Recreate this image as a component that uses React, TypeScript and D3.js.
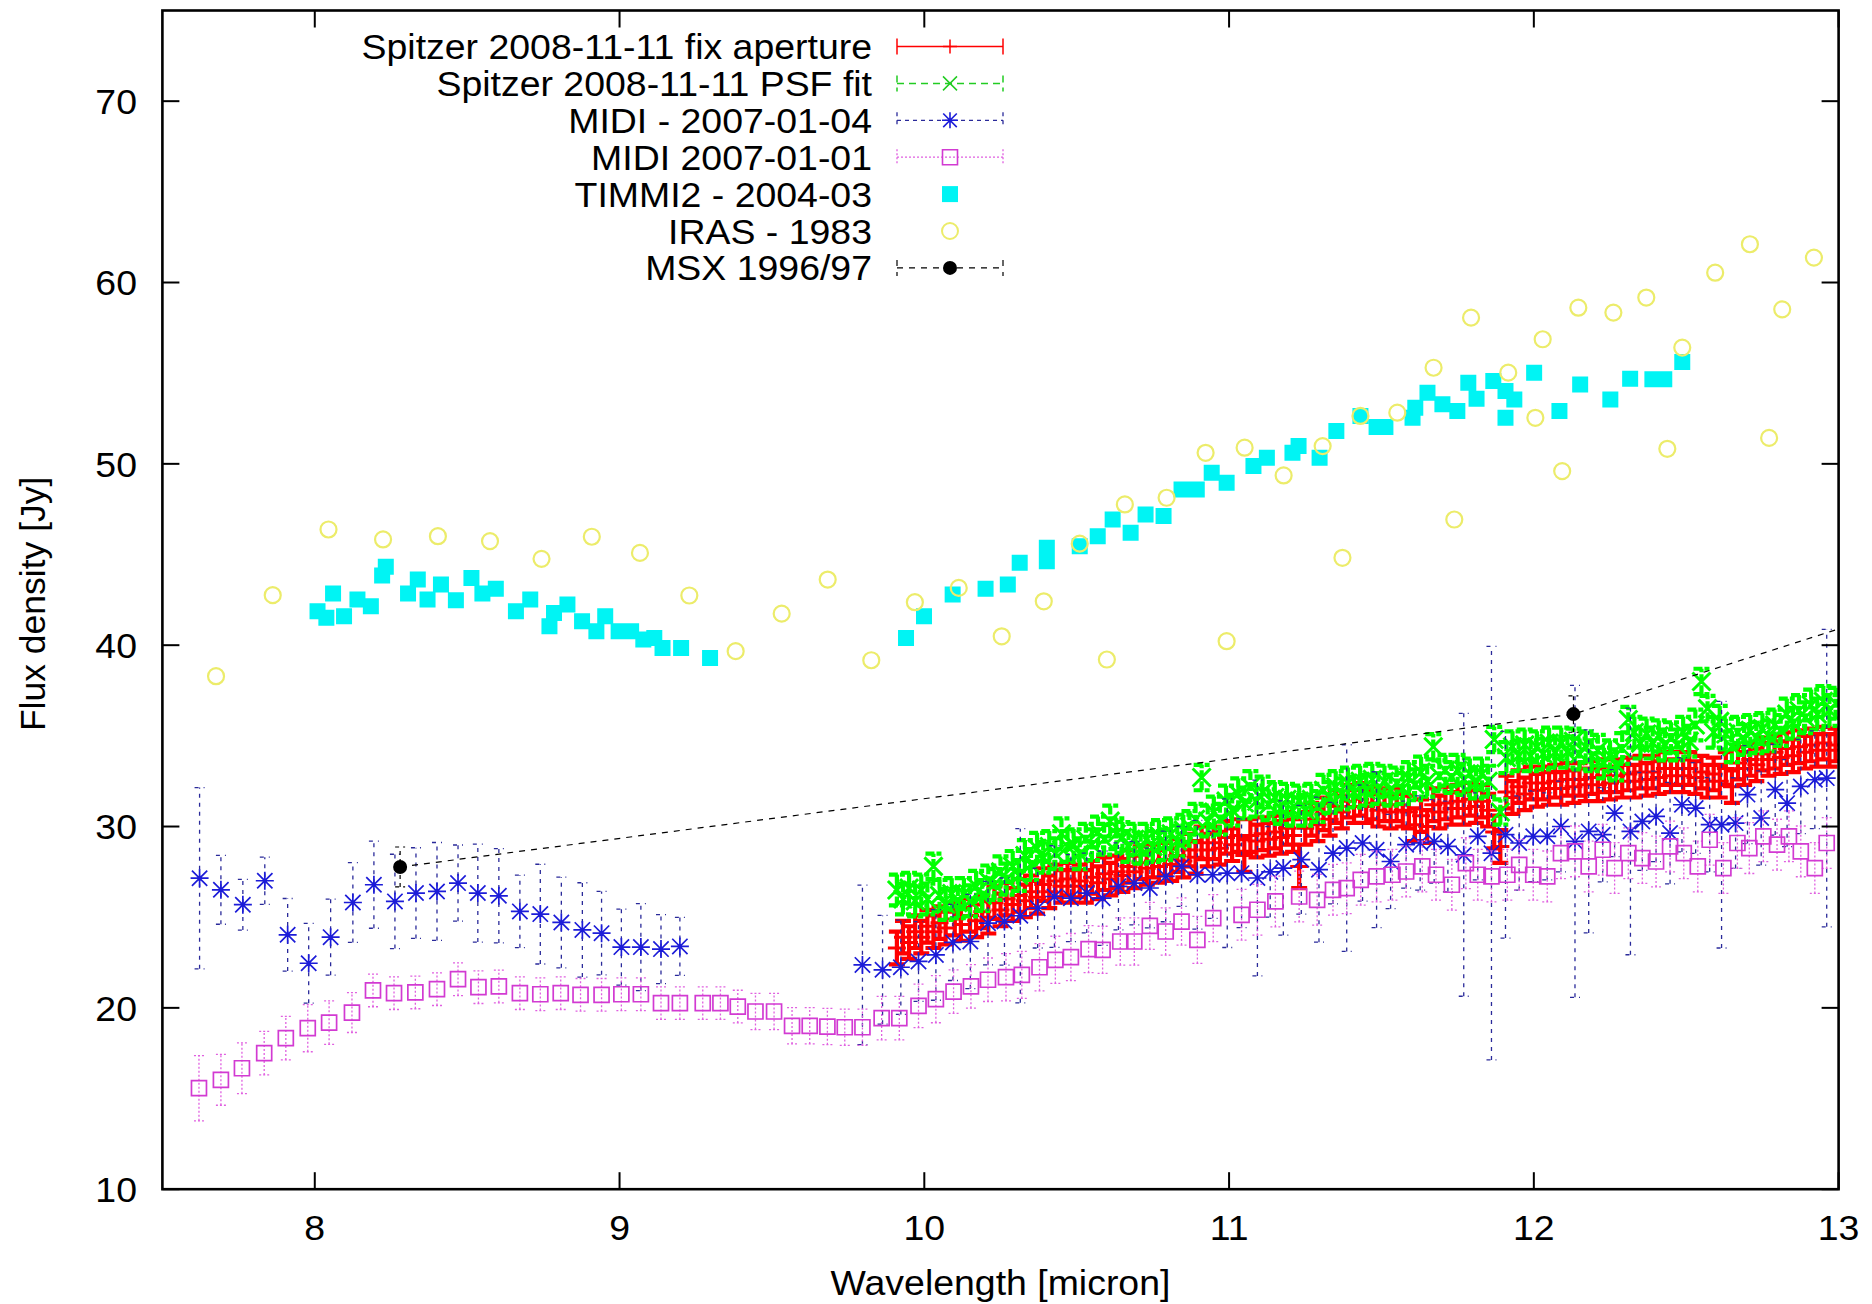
import React from "react";
import * as d3 from "d3";

// ---------- axes ----------
const xDomain: [number, number] = [7.5, 13];
const yDomain: [number, number] = [10, 75];
const xTicks = [8, 9, 10, 11, 12, 13];
const yTicks = [10, 20, 30, 40, 50, 60, 70];
const xLabel = "Wavelength [micron]";
const yLabel = "Flux density [Jy]";

// ---------- legend ----------
const legendLabels = [
  "Spitzer 2008-11-11 fix aperture",
  "Spitzer 2008-11-11 PSF fit",
  "MIDI - 2007-01-04",
  "MIDI 2007-01-01",
  "TIMMI2 - 2004-03",
  "IRAS - 1983",
  "MSX 1996/97",
];

// ---------- data: [wavelength, flux, error] ----------
const spitzerFix: [number, number, number][] = [
  [9.91,23.3,.9],[9.93,23.9,.9],[9.95,23.6,.9],[9.97,24.2,.9],[9.99,23.9,.9],[10.01,24.5,.9],[10.03,24.2,.9],
  [10.05,24.7,.9],[10.07,24.4,.9],[10.10,24.9,.9],[10.12,24.6,.9],[10.15,25.1,.9],[10.17,24.8,.9],[10.19,25.3,.9],
  [10.21,25.0,.9],[10.23,25.8,.9],[10.25,25.4,.9],[10.27,26.0,.9],[10.29,25.7,.9],[10.31,26.2,.9],[10.33,25.9,.9],
  [10.35,26.4,.9],[10.37,26.1,.9],[10.39,26.8,.9],[10.41,26.4,.9],[10.43,27.0,.9],[10.45,26.7,.9],[10.47,27.1,.9],
  [10.49,26.7,.9],[10.51,27.0,.9],[10.53,26.7,.9],[10.55,27.2,.9],[10.57,26.9,.9],[10.59,27.4,.9],[10.61,27.1,.9],
  [10.63,27.5,.9],[10.65,27.3,.9],[10.67,27.8,.9],[10.69,27.5,.9],[10.71,28.0,.9],[10.73,27.7,.9],[10.75,28.1,.9],
  [10.77,27.8,.9],[10.79,28.2,.9],[10.81,27.9,.9],[10.83,28.4,.9],[10.85,28.1,.9],[10.87,28.7,.9],[10.89,28.3,.9],
  [10.91,29.1,.9],[10.93,28.7,.9],[10.95,29.1,.9],[10.97,28.8,.9],[10.99,29.4,.9],[11.01,29.0,.9],[11.03,29.5,.9],
  [11.05,28.4,.9],[11.07,29.5,.9],[11.09,29.2,.9],[11.11,29.6,.9],[11.13,29.3,.9],[11.15,29.7,.9],[11.17,29.4,.9],
  [11.19,29.9,.9],[11.21,29.5,.9],[11.23,27.8,1.2],[11.25,29.9,.9],[11.27,30.4,.9],[11.29,30.1,.9],[11.31,30.7,.9],
  [11.33,30.4,.9],[11.35,31.1,.9],[11.37,30.8,.9],[11.39,31.4,.9],[11.41,31.1,.9],[11.43,31.5,.9],[11.45,31.1,.9],
  [11.47,31.3,.9],[11.49,30.9,.9],[11.51,31.2,.9],[11.53,30.8,.9],[11.55,31.2,.9],[11.57,30.9,.9],[11.59,30.8,.9],
  [11.61,30.1,.9],[11.63,30.6,.9],[11.65,30.0,.9],[11.67,31.2,.9],[11.69,30.8,.9],[11.71,31.3,.9],[11.73,31.0,.9],
  [11.75,31.4,.9],[11.77,31.0,.9],[11.79,31.5,.9],[11.81,31.1,.9],[11.83,31.4,.9],[11.85,30.9,.9],[11.87,29.7,.9],
  [11.89,28.9,.9],[11.91,31.9,.9],[11.93,31.6,.9],[11.95,32.2,.9],[11.97,31.8,.9],[11.99,32.4,.9],[12.01,32.0,.9],
  [12.03,32.4,.9],[12.05,32.1,.9],[12.07,32.5,.9],[12.09,32.1,.9],[12.11,32.6,.9],[12.13,32.2,.9],[12.15,32.6,.9],
  [12.17,32.3,.9],[12.19,32.7,.9],[12.21,32.3,.9],[12.23,32.8,.9],[12.25,32.4,.9],[12.27,32.8,.9],[12.29,32.5,.9],
  [12.31,32.9,.9],[12.33,32.5,.9],[12.35,33.0,.9],[12.37,32.6,.9],[12.39,33.0,.9],[12.41,32.7,.9],[12.43,33.2,.9],
  [12.45,32.8,.9],[12.47,33.2,.9],[12.49,32.8,.9],[12.51,33.2,.9],[12.53,32.7,.9],[12.55,33.0,.9],[12.57,32.5,.9],
  [12.59,32.9,.9],[12.61,32.5,.9],[12.63,33.2,.9],[12.65,32.2,.9],[12.67,33.5,.9],[12.69,33.2,.9],[12.71,33.7,.9],
  [12.73,33.4,.9],[12.75,34.0,.9],[12.77,33.7,.9],[12.79,34.1,.9],[12.81,33.8,.9],[12.83,34.3,.9],[12.85,33.9,.9],
  [12.87,34.4,.9],[12.89,34.1,.9],[12.91,34.5,.9],[12.93,34.2,.9],[12.95,34.6,.9],[12.97,34.2,.9],[12.99,34.5,.9],
];

const spitzerPsf: [number, number, number][] = [
  [9.91,26.5,.85],[9.93,26.0,.85],[9.95,26.6,.85],[9.97,25.9,.85],[9.99,26.5,.85],[10.01,26.0,.85],[10.03,27.8,.7],
  [10.05,26.2,.85],[10.07,25.7,.85],[10.09,26.3,.85],[10.11,25.8,.85],[10.13,26.3,.85],[10.15,25.9,.85],[10.17,26.7,.85],
  [10.19,26.2,.85],[10.21,27.0,.85],[10.23,26.8,.85],[10.25,27.5,.85],[10.27,27.1,.85],[10.29,27.8,.85],[10.31,27.3,.85],
  [10.33,28.4,.85],[10.35,27.9,.85],[10.37,28.8,.85],[10.39,28.3,.85],[10.41,28.9,.85],[10.43,28.5,.85],[10.45,29.6,.85],
  [10.47,28.9,.85],[10.49,29.0,.85],[10.51,28.5,.85],[10.53,29.3,.85],[10.55,29.0,.85],[10.57,29.7,.85],[10.59,29.3,.85],
  [10.61,30.3,.85],[10.63,29.6,.85],[10.65,29.4,.85],[10.67,28.9,.85],[10.69,29.3,.85],[10.71,28.8,.85],[10.73,29.3,.85],
  [10.75,28.9,.85],[10.77,29.5,.85],[10.79,29.0,.85],[10.81,29.6,.85],[10.83,29.2,.85],[10.85,29.8,.85],[10.87,30.0,.85],
  [10.89,30.4,.85],[10.91,32.7,.7],[10.93,30.3,.85],[10.95,30.8,.85],[10.97,30.4,.85],[10.99,31.4,.85],[11.01,30.9,.85],
  [11.03,31.8,.85],[11.05,31.3,.85],[11.07,32.2,.85],[11.09,31.4,.85],[11.11,31.9,.85],[11.13,31.2,.85],[11.15,31.6,.85],
  [11.17,31.0,.85],[11.19,31.5,.85],[11.21,30.9,.85],[11.23,31.4,.85],[11.25,30.9,.85],[11.27,31.5,.85],[11.29,31.1,.85],
  [11.31,32.0,.85],[11.33,31.6,.85],[11.35,32.2,.85],[11.37,31.8,.85],[11.39,32.4,.85],[11.41,31.9,.85],[11.43,32.5,.85],
  [11.45,32.0,.85],[11.47,32.6,.85],[11.49,32.1,.85],[11.51,32.5,.85],[11.53,32.0,.85],[11.55,32.4,.85],[11.57,32.1,.85],
  [11.59,32.7,.85],[11.61,32.3,.85],[11.63,33.0,.85],[11.65,32.5,.85],[11.67,34.4,.7],[11.69,32.8,.85],[11.71,33.1,.85],
  [11.73,32.7,.85],[11.75,33.1,.85],[11.77,32.6,.85],[11.79,32.9,.85],[11.81,32.4,.85],[11.83,32.9,.85],[11.85,32.5,.85],
  [11.87,34.8,.7],[11.89,30.8,.7],[11.91,33.8,.85],[11.93,34.4,.85],[11.95,33.9,.85],[11.97,34.5,.85],[11.99,33.9,.85],
  [12.01,34.4,.85],[12.03,34.0,.85],[12.05,34.6,.85],[12.07,34.1,.85],[12.09,34.6,.85],[12.11,34.1,.85],[12.13,34.7,.7],
  [12.15,34.0,.85],[12.17,34.4,.85],[12.19,33.9,.85],[12.21,34.2,.85],[12.23,33.5,.85],[12.25,33.9,.85],[12.27,33.4,.85],
  [12.29,34.3,.85],[12.31,35.9,.7],[12.33,35.2,.85],[12.35,34.6,.85],[12.37,35.1,.85],[12.39,34.6,.85],[12.41,35.0,.85],
  [12.43,34.5,.85],[12.45,34.9,.85],[12.47,34.5,.85],[12.49,35.2,.85],[12.51,34.7,.85],[12.53,35.6,.85],[12.55,38.0,.7],
  [12.57,36.5,.7],[12.59,35.2,.85],[12.61,35.8,.85],[12.63,35.1,.85],[12.65,34.4,.85],[12.67,35.2,.85],[12.69,34.8,.85],
  [12.71,35.3,.85],[12.73,34.9,.85],[12.75,35.4,.85],[12.77,35.0,.85],[12.79,35.6,.85],[12.81,35.3,.85],[12.83,36.2,.85],
  [12.85,35.7,.85],[12.87,36.4,.85],[12.89,36.0,.85],[12.91,36.7,.85],[12.93,36.2,.85],[12.95,36.9,.85],[12.97,36.4,.85],
  [12.99,36.8,.85],
];

const midi0104: [number, number, number][] = [
  [7.622,27.15,5.0],[7.692,26.51,1.9],[7.764,25.69,1.4],[7.836,27.01,1.3],[7.911,24.03,2.0],[7.980,22.46,2.2],
  [8.052,23.90,2.1],[8.125,25.81,2.2],[8.194,26.79,2.4],[8.263,25.87,2.6],[8.332,26.33,2.5],[8.401,26.42,2.7],
  [8.470,26.88,2.1],[8.535,26.33,2.7],[8.604,26.18,2.6],[8.673,25.32,2.0],[8.740,25.17,2.75],[8.809,24.71,2.5],
  [8.878,24.30,2.6],[8.941,24.12,2.3],[9.006,23.35,2.1],[9.070,23.35,2.4],[9.136,23.24,1.9],[9.198,23.39,1.6],
  [9.797,22.37,4.4],[9.863,22.10,3.0],[9.923,22.24,2.6],[9.981,22.56,2.2],[10.038,22.92,2.5],[10.094,23.61,2.1],
  [10.151,23.66,2.6],[10.209,24.67,2.3],[10.263,24.76,2.4],[10.315,25.08,4.8],[10.372,25.50,2.2],[10.427,26.14,2.8],
  [10.481,26.05,2.4],[10.533,26.33,2.2],[10.585,26.05,2.6],[10.637,26.70,2.4],[10.689,26.88,2.3],[10.740,26.61,2.2],
  [10.792,27.25,2.5],[10.844,27.80,2.2],[10.896,27.34,3.0],[10.946,27.34,2.4],[10.994,27.43,4.1],[11.041,27.43,3.0],
  [11.093,27.16,5.4],[11.135,27.50,2.5],[11.178,27.71,3.7],[11.237,28.17,3.0],[11.295,27.62,4.0],[11.341,28.53,2.8],
  [11.386,28.81,5.7],[11.438,29.09,3.2],[11.484,28.72,4.3],[11.530,28.07,2.6],[11.581,29.00,2.4],[11.627,29.09,2.6],
  [11.673,29.18,2.3],[11.718,28.90,2.5],[11.770,28.44,7.8],[11.816,29.46,2.4],[11.861,28.53,11.4],[11.907,29.55,5.7],
  [11.952,29.09,2.6],[11.998,29.46,2.5],[12.044,29.46,2.4],[12.089,30.00,2.5],[12.135,29.18,8.6],[12.180,29.73,5.6],
  [12.226,29.55,2.6],[12.265,30.74,2.4],[12.317,29.73,6.8],[12.356,30.28,2.7],[12.401,30.56,2.5],[12.447,29.64,2.8],
  [12.486,31.20,2.6],[12.531,31.02,2.5],[12.577,30.10,2.6],[12.616,30.10,6.8],[12.662,30.19,2.5],[12.701,31.76,2.7],
  [12.746,30.47,2.6],[12.792,32.03,2.5],[12.831,31.29,2.4],[12.876,32.21,2.6],[12.922,32.58,2.7],[12.961,32.67,8.2],
];

const midi0101: [number, number, number][] = [
  [7.620,15.57,1.8],[7.692,16.03,1.4],[7.761,16.67,1.4],[7.834,17.50,1.2],[7.905,18.33,1.2],[7.977,18.88,1.3],
  [8.047,19.19,1.2],[8.122,19.74,1.1],[8.191,20.96,.9],[8.260,20.81,.9],[8.330,20.85,.9],[8.401,21.03,.9],
  [8.470,21.58,.9],[8.537,21.14,.9],[8.604,21.18,.9],[8.673,20.81,.9],[8.740,20.75,.9],[8.807,20.81,.9],
  [8.872,20.72,.9],[8.941,20.72,.9],[9.006,20.75,.9],[9.070,20.75,.9],[9.136,20.26,.9],[9.198,20.26,.9],
  [9.273,20.26,.9],[9.331,20.26,.9],[9.388,20.07,.9],[9.446,19.80,1.0],[9.507,19.80,1.0],[9.566,19.01,1.0],
  [9.624,19.01,1.0],[9.682,18.97,1.0],[9.739,18.93,1.0],[9.797,18.93,1.0],[9.860,19.43,1.2],[9.918,19.43,1.2],
  [9.981,20.11,1.2],[10.038,20.48,1.3],[10.096,20.90,1.2],[10.153,21.18,1.2],[10.209,21.55,1.2],[10.268,21.69,1.3],
  [10.320,21.82,1.3],[10.378,22.24,1.3],[10.430,22.65,1.3],[10.481,22.80,1.3],[10.539,23.24,1.3],[10.585,23.20,1.3],
  [10.643,23.66,1.3],[10.689,23.66,1.3],[10.740,24.52,1.3],[10.792,24.21,1.3],[10.844,24.76,1.3],[10.896,23.75,1.3],
  [10.948,24.95,1.3],[11.041,25.13,1.4],[11.093,25.41,1.4],[11.152,25.87,1.4],[11.230,26.14,1.4],[11.289,25.96,1.4],
  [11.341,26.51,1.4],[11.386,26.60,1.4],[11.432,27.06,1.4],[11.484,27.25,1.4],[11.536,27.34,1.4],[11.581,27.52,1.4],
  [11.634,27.80,1.4],[11.679,27.34,1.4],[11.731,26.79,1.4],[11.777,27.98,1.4],[11.816,27.34,1.4],[11.861,27.25,1.4],
  [11.913,27.34,1.4],[11.952,27.89,1.4],[11.998,27.34,1.4],[12.044,27.25,1.4],[12.089,28.53,1.4],[12.135,28.63,1.4],
  [12.180,27.80,1.4],[12.226,28.72,1.4],[12.265,27.71,1.4],[12.310,28.53,1.4],[12.356,28.26,1.4],[12.401,28.07,1.4],
  [12.447,28.90,1.4],[12.492,28.53,1.4],[12.538,27.80,1.4],[12.577,29.27,1.4],[12.622,27.71,1.4],[12.668,29.09,1.4],
  [12.707,28.81,1.4],[12.753,29.46,1.4],[12.798,29.00,1.4],[12.837,29.46,1.4],[12.876,28.63,1.4],[12.922,27.71,1.4],
  [12.961,29.09,1.4],
];

const timmi2: [number, number][] = [
  [8.009,41.87],[8.038,41.51],[8.060,42.85],[8.096,41.60],[8.140,42.52],[8.184,42.15],[8.221,43.84],[8.233,44.32],
  [8.306,42.85],[8.338,43.62],[8.370,42.52],[8.414,43.34],[8.463,42.48],[8.514,43.71],[8.550,42.85],[8.594,43.11],
  [8.660,41.87],[8.707,42.52],[8.770,41.05],[8.785,41.78],[8.829,42.24],[8.877,41.32],[8.924,40.77],[8.953,41.60],
  [8.997,40.77],[9.038,40.77],[9.078,40.31],[9.114,40.40],[9.141,39.85],[9.202,39.85],[9.297,39.30],
  [9.940,40.40],[9.999,41.60],[10.093,42.79],[10.201,43.11],[10.274,43.34],[10.313,44.54],[10.402,45.37],[10.402,44.63],
  [10.510,45.46],[10.569,46.01],[10.618,46.93],[10.677,46.20],[10.726,47.21],[10.785,47.12],[10.844,48.59],[10.894,48.59],
  [10.943,49.51],[10.992,48.96],[11.080,49.88],[11.124,50.33],[11.208,50.61],[11.228,50.98],[11.297,50.33],[11.352,51.81],
  [11.431,52.64],[11.484,52.03],[11.513,52.03],[11.602,52.54],[11.611,53.09],[11.651,53.92],[11.700,53.28],[11.749,52.91],
  [11.785,54.47],[11.812,53.59],[11.867,54.57],[11.907,54.02],[11.936,53.55],[11.907,52.54],[12.001,55.03],[12.084,52.91],
  [12.152,54.38],[12.251,53.55],[12.316,54.69],[12.389,54.66],[12.428,54.66],[12.487,55.61],
];

const iras: [number, number][] = [
  [7.676,38.29],[7.862,42.76],[8.045,46.38],[8.224,45.83],[8.404,46.01],[8.575,45.74],[8.744,44.76],[8.909,45.98],
  [9.067,45.09],[9.229,42.74],[9.381,39.67],[9.532,41.74],[9.683,43.62],[9.826,39.17],[9.969,42.37],[10.113,43.16],
  [10.254,40.49],[10.392,42.42],[10.510,45.60],[10.599,39.21],[10.658,47.76],[10.795,48.13],[10.923,50.61],[10.992,40.22],
  [11.051,50.89],[11.179,49.36],[11.307,50.98],[11.372,44.82],[11.431,52.64],[11.552,52.82],[11.671,55.30],[11.739,46.93],
  [11.794,58.06],[11.916,55.03],[12.005,52.54],[12.029,56.87],[12.093,49.60],[12.146,58.61],[12.261,58.34],[12.369,59.17],
  [12.438,50.83],[12.487,56.41],[12.595,60.54],[12.709,62.11],[12.772,51.43],[12.815,58.52],[12.919,61.37],
];

const msx: [number, number, number][] = [
  [8.28,27.77,1.1],[12.13,36.2,1.0],[14.65,49.8,1.5],
];

// ---------- component ----------
const W = 1872;
const H = 1304;
const plot = { left: 162.4, right: 1838.6, top: 10.5, bottom: 1189.2 };
const FONT = "'Liberation Sans', Arial, Helvetica, sans-serif";
const FS = 35.5;
const SX = 1.055; // horizontal stretch of the lettering seen in the reference

const C = {
  red: "#ff0000",
  green: "#00ff00",
  blue: "#1c1cd8",
  blueBar: "#2a2a9a",
  magenta: "#d23ad2",
  magentaBar: "#e060e0",
  cyan: "#00f4f4",
  yellow: "#ecec6a",
  black: "#000000",
};

type MarkerKind = "plus" | "cross" | "star" | "square" | "fsquare" | "circle" | "fcircle";

function markerPath(kind: MarkerKind, x: number, y: number, s: number): string {
  const p = d3.path();
  if (kind === "plus" || kind === "star") {
    p.moveTo(x - s, y); p.lineTo(x + s, y);
    p.moveTo(x, y - s); p.lineTo(x, y + s);
  }
  if (kind === "cross" || kind === "star") {
    const k = kind === "star" ? s * 0.85 : s;
    p.moveTo(x - k, y - k); p.lineTo(x + k, y + k);
    p.moveTo(x - k, y + k); p.lineTo(x + k, y - k);
  }
  if (kind === "square" || kind === "fsquare") {
    p.rect(x - s, y - s, 2 * s, 2 * s);
  }
  if (kind === "circle" || kind === "fcircle") {
    p.moveTo(x + s, y);
    p.arc(x, y, s, 0, Math.PI * 2);
  }
  return p.toString();
}

function errPath(data: [number, number, number][], xs: any, ys: any, cap: number): string {
  const p = d3.path();
  data.forEach(([x, y, e]) => {
    const px = xs(x);
    const y0 = ys(y - e);
    const y1 = ys(y + e);
    p.moveTo(px, y0); p.lineTo(px, y1);
    p.moveTo(px - cap, y0); p.lineTo(px + cap, y0);
    p.moveTo(px - cap, y1); p.lineTo(px + cap, y1);
  });
  return p.toString();
}

function HText(props: { x: number; y: number; anchor: "start" | "middle" | "end"; children: React.ReactNode }) {
  return (
    <text
      transform={`translate(${props.x},${props.y}) scale(${SX},1)`}
      textAnchor={props.anchor}
      fontSize={FS}
      fontFamily={FONT}
      fill="#000"
    >
      {props.children}
    </text>
  );
}

export default function App() {
  const xs = d3.scaleLinear().domain(xDomain).range([plot.left, plot.right]);
  const ys = d3.scaleLinear().domain(yDomain).range([plot.bottom, plot.top]);

  const pts = (data: [number, number, ...number[]][], kind: MarkerKind, s: number) =>
    data.map((d) => markerPath(kind, xs(d[0]), ys(d[1]), s)).join(" ");

  const msxLine = d3
    .line<[number, number, number]>()
    .x((d) => xs(d[0]))
    .y((d) => ys(d[1]))(msx) as string;

  const tickLen = 17;

  // legend geometry
  const legTextX = 872;
  const legY0 = 46.5;
  const legDy = 36.9;
  const sx0 = 897;
  const sx1 = 1003;
  const smid = 950;

  const legendSamples = legendLabels.map((lab, i) => {
    const y = legY0 + i * legDy;
    const lineEl = (stroke: string, dash: string | undefined, w: number) => (
      <g>
        <line x1={sx0} x2={sx1} y1={y} y2={y} stroke={stroke} strokeWidth={w} strokeDasharray={dash} />
        <line x1={sx0} x2={sx0} y1={y - 8} y2={y + 8} stroke={stroke} strokeWidth={w} strokeDasharray={dash} />
        <line x1={sx1} x2={sx1} y1={y - 8} y2={y + 8} stroke={stroke} strokeWidth={w} strokeDasharray={dash} />
      </g>
    );
    let sample: React.ReactNode = null;
    if (i === 0)
      sample = (
        <g>
          {lineEl(C.red, undefined, 1.5)}
          <path d={markerPath("plus", smid, y, 7)} stroke={C.red} strokeWidth={1.5} fill="none" />
        </g>
      );
    if (i === 1)
      sample = (
        <g>
          {lineEl("#22cc22", "7,5", 1.5)}
          <path d={markerPath("cross", smid, y, 7)} stroke="#22cc22" strokeWidth={1.5} fill="none" />
        </g>
      );
    if (i === 2)
      sample = (
        <g>
          {lineEl(C.blueBar, "4,4", 1.3)}
          <path d={markerPath("star", smid, y, 8)} stroke={C.blue} strokeWidth={1.6} fill="none" />
        </g>
      );
    if (i === 3)
      sample = (
        <g>
          {lineEl(C.magentaBar, "2,2", 1.3)}
          <path d={markerPath("square", smid, y, 7.5)} stroke={C.magenta} strokeWidth={1.6} fill="none" />
        </g>
      );
    if (i === 4) sample = <path d={markerPath("fsquare", smid, y, 8)} fill={C.cyan} />;
    if (i === 5)
      sample = <path d={markerPath("circle", smid, y, 8)} stroke={C.yellow} strokeWidth={2} fill="none" />;
    if (i === 6)
      sample = (
        <g>
          {lineEl(C.black, "6,6", 1.2)}
          <path d={markerPath("fcircle", smid, y, 7)} fill={C.black} />
        </g>
      );
    return (
      <g key={lab}>
        <HText x={legTextX} y={y + 12.5} anchor="end">
          {lab}
        </HText>
        {sample}
      </g>
    );
  });

  return (
    <svg
      width={W}
      height={H}
      viewBox={`0 0 ${W} ${H}`}
      style={{ position: "absolute", left: 0, top: 0, display: "block", background: "#fff" }}
    >
      <rect x={0} y={0} width={W} height={H} fill="#fff" />
      <defs>
        <clipPath id="plotclip">
          <rect x={plot.left} y={plot.top} width={plot.right - plot.left} height={plot.bottom - plot.top} />
        </clipPath>
      </defs>

      <g clipPath="url(#plotclip)">
        {/* Spitzer fix aperture */}
        <path d={errPath(spitzerFix, xs, ys, 8)} stroke={C.red} strokeWidth={4.2} fill="none" />
        <path d={pts(spitzerFix, "plus", 9)} stroke={C.red} strokeWidth={3} fill="none" />
        {/* Spitzer PSF fit */}
        <path d={errPath(spitzerPsf, xs, ys, 8)} stroke={C.green} strokeWidth={4.2} strokeDasharray="9,2" fill="none" />
        <path d={pts(spitzerPsf, "cross", 9)} stroke={C.green} strokeWidth={3} fill="none" />
        {/* MIDI 2007-01-04 */}
        <path d={errPath(midi0104, xs, ys, 5)} stroke={C.blueBar} strokeWidth={1.3} strokeDasharray="4,5" fill="none" />
        <path d={pts(midi0104, "star", 9)} stroke={C.blue} strokeWidth={1.7} fill="none" />
        {/* MIDI 2007-01-01 */}
        <path d={errPath(midi0101, xs, ys, 5)} stroke={C.magentaBar} strokeWidth={1.3} strokeDasharray="2,2" fill="none" />
        <path d={pts(midi0101, "square", 7.5)} stroke={C.magenta} strokeWidth={1.7} fill="none" />
        {/* TIMMI2 */}
        <path d={pts(timmi2, "fsquare", 8)} fill={C.cyan} />
        {/* IRAS */}
        <path d={pts(iras, "circle", 8)} stroke={C.yellow} strokeWidth={2.2} fill="none" />
        {/* MSX */}
        <path d={msxLine} stroke={C.black} strokeWidth={1.2} strokeDasharray="6,6" fill="none" />
        <path d={errPath(msx, xs, ys, 5)} stroke={C.black} strokeWidth={1.2} strokeDasharray="4,4" fill="none" />
        <path d={pts(msx, "fcircle", 7)} fill={C.black} />
      </g>

      {/* ticks */}
      {xTicks.map((t) => (
        <g key={"xt" + t}>
          <line x1={xs(t)} x2={xs(t)} y1={plot.bottom} y2={plot.bottom - tickLen} stroke="#000" strokeWidth={2} />
          <line x1={xs(t)} x2={xs(t)} y1={plot.top} y2={plot.top + tickLen} stroke="#000" strokeWidth={2} />
          <HText x={xs(t)} y={1240} anchor="middle">
            {t}
          </HText>
        </g>
      ))}
      {yTicks.map((t) => (
        <g key={"yt" + t}>
          <line x1={plot.left} x2={plot.left + tickLen} y1={ys(t)} y2={ys(t)} stroke="#000" strokeWidth={2} />
          <line x1={plot.right} x2={plot.right - tickLen} y1={ys(t)} y2={ys(t)} stroke="#000" strokeWidth={2} />
          <HText x={137} y={ys(t) + 12.8} anchor="end">
            {t}
          </HText>
        </g>
      ))}

      {/* border */}
      <rect
        x={plot.left}
        y={plot.top}
        width={plot.right - plot.left}
        height={plot.bottom - plot.top}
        fill="none"
        stroke="#000"
        strokeWidth={2.6}
      />

      {/* axis labels */}
      <HText x={(plot.left + plot.right) / 2} y={1295} anchor="middle">
        {xLabel}
      </HText>
      <text
        transform={`translate(45, ${(plot.top + plot.bottom) / 2 + 4}) rotate(-90)`}
        textAnchor="middle"
        fontSize={FS}
        fontFamily={FONT}
        fill="#000"
      >
        {yLabel}
      </text>

      {/* legend */}
      {legendSamples}
    </svg>
  );
}
